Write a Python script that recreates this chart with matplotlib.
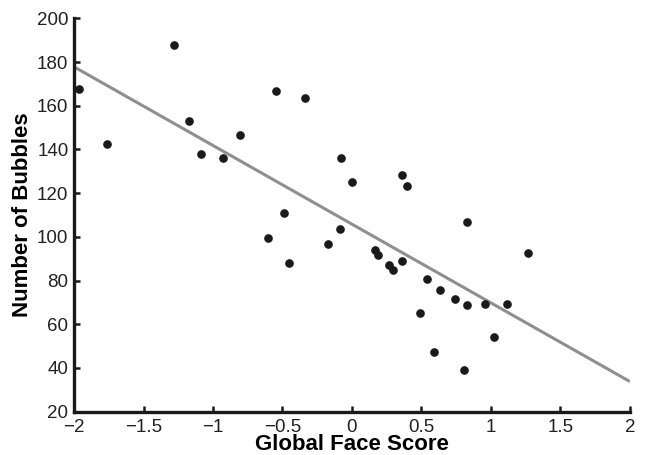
import matplotlib
matplotlib.use("Agg")
import matplotlib.pyplot as plt

# global face score vs number of bubbles
face_score = [-1.964, -1.76, -1.283, -1.173, -1.086, -0.926, -0.808, -0.545, -0.340, -0.491,
              -0.079, 0.0, 0.36, 0.398, 0.825, -0.086, -0.602, -0.451, -0.175,
              0.165, 0.185, 0.264, 0.293, 0.362, 0.540, 0.631, 0.739, 0.827, 0.957,
              1.113, 1.268, 0.491, 1.022, 0.590, 0.806]
bubbles = [167.6, 142.7, 187.6, 153.1, 137.7, 136.0, 146.4, 166.7, 163.4, 111.0,
           136.0, 125.3, 128.4, 123.3, 106.7, 103.6, 99.4, 87.9, 96.9,
           94.0, 91.7, 87.3, 85.0, 88.8, 80.7, 75.9, 71.7, 68.7, 69.4,
           69.1, 92.8, 65.1, 54.1, 47.3, 39.3]

# regression line end points
fit_x = [-2, 2]
fit_y = [177.8, 33.8]

x_ticks = [-2, -1.5, -1, -0.5, 0, 0.5, 1, 1.5, 2]
x_tick_labels = ["\u22122", "\u22121.5", "\u22121", "\u22120.5", "0", "0.5", "1", "1.5", "2"]
y_ticks = [20, 40, 60, 80, 100, 120, 140, 160, 180, 200]

plt.rcParams['font.family'] = ['Liberation Sans', 'DejaVu Sans']

fig = plt.figure(figsize=(6.46, 4.55), dpi=100)
ax = fig.add_axes([0.1146, 0.0952, 0.8604, 0.8646])

ax.plot(fit_x, fit_y, color='#8f8f8f', linewidth=2.2, solid_capstyle='butt', zorder=2)
ax.plot(face_score, bubbles, 'o', color='#1a1a1a', markersize=5.2, zorder=3)

ax.set_xlim(-2, 2)
ax.set_ylim(20, 200)
ax.set_xticks(x_ticks)
ax.set_xticklabels(x_tick_labels)
ax.set_yticks(y_ticks)

ax.spines['top'].set_visible(False)
ax.spines['right'].set_visible(False)
for side in ['left', 'bottom']:
    ax.spines[side].set_linewidth(2.4)
    ax.spines[side].set_color('#1a1a1a')

ax.tick_params(direction='in', length=4, width=1.8, color='#1a1a1a',
               labelsize=13.5, labelcolor='#222222')
ax.tick_params(axis='x', pad=5)
ax.tick_params(axis='y', pad=4)

ax.set_xlabel('Global Face Score', fontsize=16, fontweight='bold', labelpad=-1)
ax.set_ylabel('Number of Bubbles', fontsize=16, fontweight='bold', labelpad=3)

plt.savefig('out.png', dpi=100)
plt.close()
